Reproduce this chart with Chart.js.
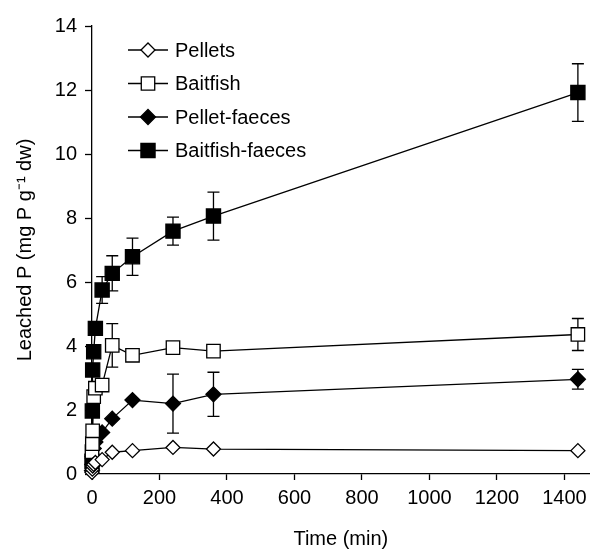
<!DOCTYPE html>
<html>
<head>
<meta charset="utf-8">
<style>
  html, body { margin: 0; padding: 0; background: #fff; }
  #wrap { width: 601px; height: 553px; }
</style>
<script src="https://cdn.jsdelivr.net/npm/chart.js@4"></script>
</head>
<body>
<div id="wrap"><canvas id="leachChart" width="601" height="553"></canvas></div>
<script>
// sampling times (min)
let tiempos = [0, 1, 2, 5, 10, 30, 60, 120, 240, 360, 1440];

let pellets = [0.05, 0.15, 0.25, 0.3, 0.36, 0.45, 0.68, 0.73, 0.83, 0.78, 0.73];
let baitfish = [0.7, 0.95, 1.35, 2.42, 2.68, 2.78, 4.02, 3.71, 3.95, 3.84, 4.36];
let pelletFaeces = [0.1, 0.3, 0.55, 0.8, 1.0, 1.3, 1.73, 2.31, 2.2, 2.49, 2.96];
let baitfishFaeces = [0.4, 1.97, 3.25, 3.82, 4.55, 5.75, 6.27, 6.79, 7.59, 8.06, 11.92];

// standard errors (0 = hidden behind marker)
let pelletsErr = [0, 0, 0, 0, 0, 0, 0, 0, 0, 0, 0];
let baitfishErr = [0, 0, 0, 0, 0, 0, 0.68, 0, 0, 0, 0.5];
let pelletFaecesErr = [0, 0, 0, 0, 0, 0, 0, 0, 0.92, 0.69, 0.31];
let baitfishFaecesErr = [0, 0, 0, 0, 0, 0.42, 0.55, 0.58, 0.44, 0.75, 0.9];

let nomes = ["Pellets", "Baitfish", "Pellet-faeces", "Baitfish-faeces"];

let fonte = "'Liberation Sans', Arial, sans-serif";

function pontos(valores) {
  return tiempos.map((t, i) => ({ x: t, y: valores[i] }));
}

function serie(label, valores, erros, estilo, cheio, raio) {
  return {
    label: label,
    data: pontos(valores),
    erros: erros,
    borderColor: "#000",
    backgroundColor: cheio ? "#000" : "#fff",
    borderWidth: 1.3,
    pointStyle: estilo,
    pointRadius: raio,
    pointHoverRadius: raio,
    pointBorderWidth: 1.3,
    pointBorderColor: "#000",
    pointBackgroundColor: cheio ? "#000" : "#fff",
    tension: 0,
    clip: false,
  };
}

const barrasErro = {
  id: "barrasErro",
  beforeDatasetsDraw(chart) {
    const ctx = chart.ctx;
    const xs = chart.scales.x;
    const ys = chart.scales.y;
    ctx.save();
    ctx.strokeStyle = "#000";
    ctx.lineWidth = 1.3;
    chart.data.datasets.forEach((ds) => {
      ds.data.forEach((p, i) => {
        const e = ds.erros[i];
        if (!e) return;
        const x = xs.getPixelForValue(p.x);
        const y1 = ys.getPixelForValue(p.y + e);
        const y2 = ys.getPixelForValue(p.y - e);
        ctx.beginPath();
        ctx.moveTo(x, y1);
        ctx.lineTo(x, y2);
        ctx.moveTo(x - 6, y1);
        ctx.lineTo(x + 6, y1);
        ctx.moveTo(x - 6, y2);
        ctx.lineTo(x + 6, y2);
        ctx.stroke();
      });
    });
    ctx.restore();
  },
};

const legenda = {
  id: "legenda",
  afterDraw(chart) {
    const ctx = chart.ctx;
    ctx.save();
    chart.data.datasets.forEach((ds, i) => {
      const y = 50 + i * 33.5;
      ctx.strokeStyle = "#000";
      ctx.lineWidth = 1.3;
      ctx.beginPath();
      ctx.moveTo(128, y);
      ctx.lineTo(168, y);
      ctx.stroke();
      ctx.fillStyle = ds.pointBackgroundColor;
      ctx.strokeStyle = "#000";
      Chart.helpers.drawPoint(ctx, {
        pointStyle: ds.pointStyle,
        radius: ds.pointRadius,
        rotation: 0,
        borderWidth: 1.3,
      }, 148, y);
      ctx.fillStyle = "#000";
      ctx.font = "20px " + fonte;
      ctx.textBaseline = "middle";
      ctx.textAlign = "left";
      ctx.fillText(ds.label, 175, y + 1);
    });
    ctx.restore();
  },
};

let ctx = document.getElementById("leachChart").getContext("2d");

let myChart = new Chart(ctx, {
  type: "line",
  data: {
    datasets: [
      serie(nomes[0], pellets, pelletsErr, "rectRot", false, 7),
      serie(nomes[1], baitfish, baitfishErr, "rect", false, 9.5),
      serie(nomes[2], pelletFaeces, pelletFaecesErr, "rectRot", true, 7.5),
      serie(nomes[3], baitfishFaeces, baitfishFaecesErr, "rect", true, 10),
    ],
  },
  options: {
    responsive: false,
    animation: false,
    events: [],
    layout: { padding: { left: 0, top: 26, right: 1, bottom: 0 } },
    plugins: {
      legend: { display: false },
      tooltip: { enabled: false },
    },
    scales: {
      x: {
        type: "linear",
        min: 0,
        max: 1475,
        afterFit: (s) => { s.height = 79; },
        afterBuildTicks: (s) => { s.ticks = s.ticks.filter((t) => t.value % 200 === 0); },
        ticks: {
          stepSize: 200,
          includeBounds: false,
          autoSkip: false,
          color: "#000",
          font: { family: fonte, size: 20 },
          padding: 6,
          maxRotation: 0,
          callback: (v) => String(v),
        },
        grid: {
          drawOnChartArea: false,
          tickLength: 6,
          tickColor: "#000",
          tickWidth: 1.3,
        },
        border: { color: "#000", width: 1.3 },
        title: {
          display: true,
          text: "Time (min)",
          color: "#000",
          font: { family: fonte, size: 20 },
          padding: { top: 4, bottom: 2 },
        },
      },
      y: {
        min: 0,
        max: 14,
        afterFit: (s) => { s.width = 92; },
        ticks: {
          stepSize: 2,
          color: "#000",
          font: { family: fonte, size: 20 },
          padding: 8,
        },
        grid: {
          drawOnChartArea: false,
          tickLength: 7,
          tickColor: "#000",
          tickWidth: 1.3,
        },
        border: { color: "#000", width: 1.3 },
        title: {
          display: true,
          text: "Leached P (mg P g\u207B\u00B9 dw)",
          color: "#000",
          font: { family: fonte, size: 20 },
          padding: { top: 13, bottom: 4 },
        },
      },
    },
  },
  plugins: [barrasErro, legenda],
});
</script>
</body>
</html>
